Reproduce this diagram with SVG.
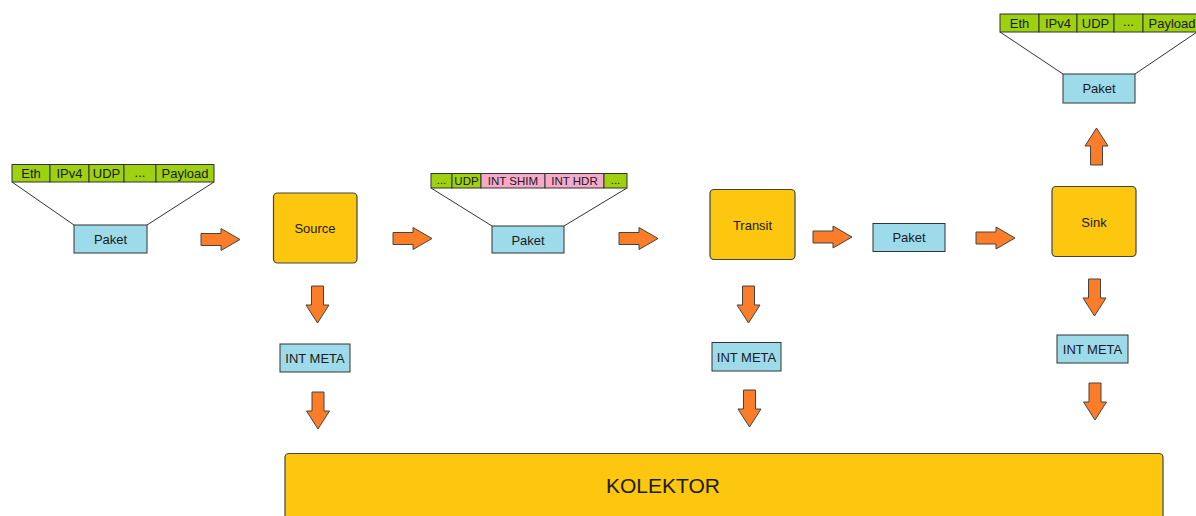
<svg xmlns="http://www.w3.org/2000/svg" xmlns:xlink="http://www.w3.org/1999/xlink" width="1196" height="516" viewBox="0 0 1196 516">
<style>
text{font-family:"Liberation Sans",Arial,sans-serif;fill:#1a1a1a;text-anchor:middle;dominant-baseline:central}
.hdr{fill:#9ed10f;stroke:#333;stroke-width:1}
.pink{fill:#f6a9c9;stroke:#333;stroke-width:1}
.blue{fill:#9ddbeb;stroke:#333;stroke-width:1}
.node{fill:#fdc70f;stroke:#444;stroke-width:1.2}
.ln{stroke:#333;stroke-width:1;fill:none}
.arr{fill:#fb7d27;stroke:#444;stroke-width:1}
.t13{font-size:13px}
.t12{font-size:11.5px}
</style>
<defs>
<path id="ar" class="arr" d="M0,-6 H20 V-11 L39,0 L20,11 V6 H0 Z"/>
<path id="ad" class="arr" d="M-6,0 V19 H-11.5 L0,37 L11.5,19 H6 V0 Z"/>
</defs>

<g id="packet-in">
<line class="ln" x1="12" y1="182" x2="74" y2="225"/>
<line class="ln" x1="214" y1="182" x2="147" y2="225"/>
<rect class="hdr" x="12" y="164.5" width="38" height="17.5"/>
<rect class="hdr" x="50" y="164.5" width="39" height="17.5"/>
<rect class="hdr" x="89" y="164.5" width="35" height="17.5"/>
<rect class="hdr" x="124" y="164.5" width="32" height="17.5"/>
<rect class="hdr" x="156" y="164.5" width="58" height="17.5"/>
<text class="t13" x="31" y="173.5">Eth</text>
<text class="t13" x="69.5" y="173.5">IPv4</text>
<text class="t13" x="106.5" y="173.5">UDP</text>
<text class="t13" x="140" y="172">...</text>
<text class="t13" x="185" y="173.5">Payload</text>
<rect class="blue" x="74" y="225" width="73" height="28"/>
<text class="t13" x="110.5" y="239.5">Paket</text>
</g>

<g id="source">
<rect class="node" x="273.5" y="193" width="83.5" height="70" rx="4"/>
<text class="t13" x="315" y="228">Source</text>
</g>

<g id="packet-int">
<line class="ln" x1="431" y1="188" x2="492" y2="226"/>
<line class="ln" x1="627" y1="188" x2="564" y2="226"/>
<rect class="hdr" x="431" y="173.5" width="21" height="14.5"/>
<rect class="hdr" x="452" y="173.5" width="29" height="14.5"/>
<rect class="pink" x="481" y="173.5" width="64" height="14.5"/>
<rect class="pink" x="545" y="173.5" width="59" height="14.5"/>
<rect class="hdr" x="604" y="173.5" width="23" height="14.5"/>
<text class="t12" x="441.5" y="180">...</text>
<text class="t12" x="466.5" y="181">UDP</text>
<text class="t12" x="513" y="181">INT SHIM</text>
<text class="t12" x="574.5" y="181">INT HDR</text>
<text class="t12" x="615.5" y="180">...</text>
<rect class="blue" x="492" y="226" width="72" height="27"/>
<text class="t13" x="528" y="240">Paket</text>
</g>

<g id="transit">
<rect class="node" x="710" y="189.5" width="85" height="70" rx="4"/>
<text class="t13" x="752.5" y="225">Transit</text>
</g>

<g id="packet-mid">
<rect class="blue" x="873" y="223.5" width="72" height="28"/>
<text class="t13" x="909" y="237.5">Paket</text>
</g>

<g id="sink">
<rect class="node" x="1052" y="186.5" width="84" height="70" rx="4"/>
<text class="t13" x="1094" y="222">Sink</text>
</g>

<g id="packet-out">
<line class="ln" x1="1000" y1="32" x2="1063" y2="74"/>
<line class="ln" x1="1197" y1="32" x2="1135" y2="74"/>
<rect class="hdr" x="1000" y="14" width="39" height="18"/>
<rect class="hdr" x="1039" y="14" width="38" height="18"/>
<rect class="hdr" x="1077" y="14" width="37" height="18"/>
<rect class="hdr" x="1114" y="14" width="29" height="18"/>
<rect class="hdr" x="1143" y="14" width="60" height="18"/>
<text class="t13" x="1019.5" y="23">Eth</text>
<text class="t13" x="1058" y="23">IPv4</text>
<text class="t13" x="1095.5" y="23">UDP</text>
<text class="t13" x="1128.5" y="21.5">...</text>
<text class="t13" x="1172" y="23">Payload</text>
<rect class="blue" x="1063" y="74" width="72" height="29"/>
<text class="t13" x="1099" y="88.5">Paket</text>
</g>

<g id="meta-source">
<rect class="blue" x="280" y="344" width="70" height="28"/>
<text class="t13" x="315" y="358">INT META</text>
</g>
<g id="meta-transit">
<rect class="blue" x="712" y="342.5" width="69" height="28.5"/>
<text class="t13" x="746.5" y="357">INT META</text>
</g>
<g id="meta-sink">
<rect class="blue" x="1057" y="335" width="71" height="28"/>
<text class="t13" x="1092.5" y="349">INT META</text>
</g>

<g id="kolektor">
<rect class="node" x="285" y="453.5" width="878" height="80" rx="4"/>
<text x="663" y="485" style="font-size:21px">KOLEKTOR</text>
</g>

<g id="connectors">
<use xlink:href="#ar" x="201" y="239.5"/>
<use xlink:href="#ar" x="393" y="238.5"/>
<use xlink:href="#ar" x="619" y="238.5"/>
<use xlink:href="#ar" x="813" y="237"/>
<use xlink:href="#ar" x="976" y="238"/>
<use xlink:href="#ad" x="317.5" y="286"/>
<use xlink:href="#ad" x="318" y="392"/>
<use xlink:href="#ad" x="748.5" y="286"/>
<use xlink:href="#ad" x="749.5" y="390"/>
<use xlink:href="#ad" x="1094.5" y="279"/>
<use xlink:href="#ad" x="1095" y="383"/>
<use xlink:href="#ad" transform="translate(1096.5,165) scale(1,-1)"/>
</g>
</svg>
